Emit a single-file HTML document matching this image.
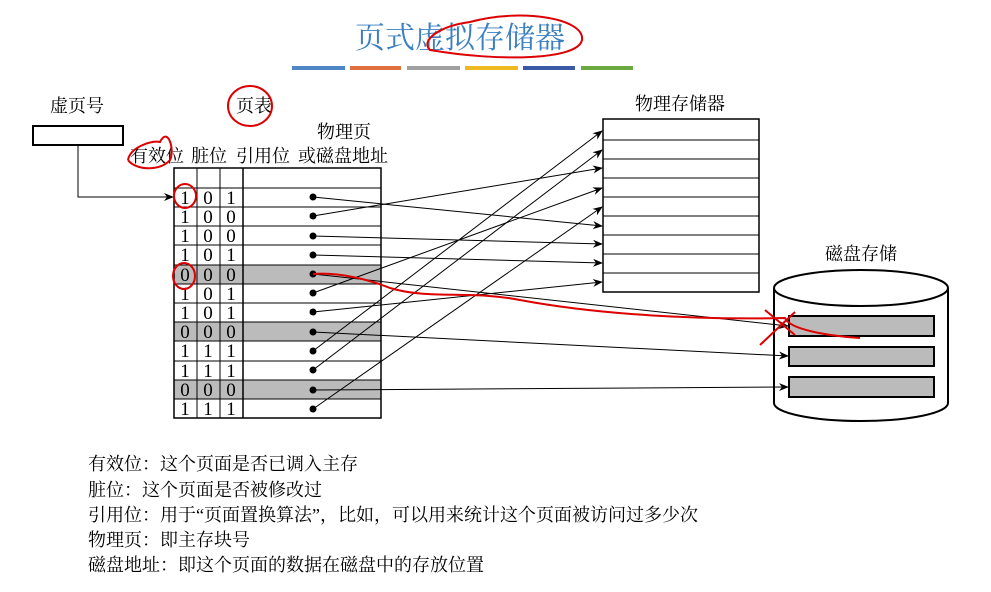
<!DOCTYPE html>
<html><head><meta charset="utf-8"><style>
body{margin:0;background:#fff;}
svg text{font-family:"Liberation Serif","Noto Serif CJK SC",serif;}
</style></head><body>
<svg width="991" height="587" xmlns="http://www.w3.org/2000/svg">
<defs><marker id="a" markerWidth="10" markerHeight="8" refX="9" refY="4" orient="auto" markerUnits="userSpaceOnUse"><path d="M0,0 L10,4 L0,8 L3,4 z" fill="#000"/></marker></defs>
<text x="460" y="48" font-size="30" fill="#3a7fc0" text-anchor="middle" font-family="Noto Sans CJK SC,sans-serif">页式虚拟存储器</text>
<g stroke-width="4">
<line x1="292" y1="68" x2="345" y2="68" stroke="#4f86c6"/><line x1="350" y1="68" x2="401" y2="68" stroke="#e07040"/>
<line x1="407" y1="68" x2="460" y2="68" stroke="#a0a0a0"/><line x1="465" y1="68" x2="518" y2="68" stroke="#f0b820"/>
<line x1="523" y1="68" x2="575" y2="68" stroke="#3a5aa8"/><line x1="581" y1="68" x2="633" y2="68" stroke="#6aaa40"/></g>
<g font-size="18" fill="#000">
<text x="50" y="112">虚页号</text><text x="236" y="112">页表</text>
<text x="317" y="138">物理页</text><text x="298" y="162">或磁盘地址</text>
<text x="130" y="162">有效位</text><text x="191" y="162">脏位</text><text x="236" y="162">引用位</text>
<text x="635" y="110">物理存储器</text><text x="825" y="260">磁盘存储</text></g>
<rect x="33" y="126" width="90" height="19" fill="#fff" stroke="#000" stroke-width="2"/>
<polyline points="78,145 78,197 173,197" fill="none" stroke="#000" marker-end="url(#a)"/>
<rect x="174" y="265" width="207" height="19" fill="#bbb"/><rect x="174" y="322" width="207" height="19" fill="#bbb"/><rect x="174" y="380" width="207" height="19" fill="#bbb"/>
<rect x="174" y="168" width="207" height="250" fill="none" stroke="#000" stroke-width="1.5"/>
<line x1="197" y1="168" x2="197" y2="418" stroke="#000"/><line x1="220" y1="168" x2="220" y2="418" stroke="#000"/><line x1="243" y1="168" x2="243" y2="418" stroke="#000" stroke-width="1.5"/>
<g stroke="#000" stroke-width="1">
<line x1="174" y1="188" x2="381" y2="188"/><line x1="174" y1="207" x2="381" y2="207"/><line x1="174" y1="226" x2="381" y2="226"/><line x1="174" y1="245" x2="381" y2="245"/><line x1="174" y1="265" x2="381" y2="265"/><line x1="174" y1="284" x2="381" y2="284"/><line x1="174" y1="303" x2="381" y2="303"/><line x1="174" y1="322" x2="381" y2="322"/><line x1="174" y1="341" x2="381" y2="341"/><line x1="174" y1="361" x2="381" y2="361"/><line x1="174" y1="380" x2="381" y2="380"/><line x1="174" y1="399" x2="381" y2="399"/></g>
<g font-size="19" text-anchor="middle" fill="#000">
<text x="185" y="204">1</text><text x="208" y="204">0</text><text x="231" y="204">1</text>
<text x="185" y="223">1</text><text x="208" y="223">0</text><text x="231" y="223">0</text>
<text x="185" y="242">1</text><text x="208" y="242">0</text><text x="231" y="242">0</text>
<text x="185" y="261">1</text><text x="208" y="261">0</text><text x="231" y="261">1</text>
<text x="185" y="281">0</text><text x="208" y="281">0</text><text x="231" y="281">0</text>
<text x="185" y="300">1</text><text x="208" y="300">0</text><text x="231" y="300">1</text>
<text x="185" y="319">1</text><text x="208" y="319">0</text><text x="231" y="319">1</text>
<text x="185" y="338">0</text><text x="208" y="338">0</text><text x="231" y="338">0</text>
<text x="185" y="357">1</text><text x="208" y="357">1</text><text x="231" y="357">1</text>
<text x="185" y="377">1</text><text x="208" y="377">1</text><text x="231" y="377">1</text>
<text x="185" y="396">0</text><text x="208" y="396">0</text><text x="231" y="396">0</text>
<text x="185" y="415">1</text><text x="208" y="415">1</text><text x="231" y="415">1</text></g>
<rect x="603" y="119" width="156" height="173" fill="#fff" stroke="#000" stroke-width="1.5"/>
<g stroke="#000"><line x1="603" y1="140" x2="759" y2="140"/><line x1="603" y1="159" x2="759" y2="159"/><line x1="603" y1="178" x2="759" y2="178"/><line x1="603" y1="197" x2="759" y2="197"/><line x1="603" y1="216" x2="759" y2="216"/><line x1="603" y1="235" x2="759" y2="235"/><line x1="603" y1="254" x2="759" y2="254"/><line x1="603" y1="273" x2="759" y2="273"/></g>
<path d="M774,288 L774,403 A87,18 0 0 0 948,403 L948,288" fill="#fff" stroke="#000" stroke-width="2"/>
<ellipse cx="861" cy="288" rx="87" ry="18" fill="#fff" stroke="#000" stroke-width="2"/>
<g fill="#bbb" stroke="#000" stroke-width="2"><rect x="789" y="316" width="145" height="20"/><rect x="789" y="347" width="145" height="19"/><rect x="789" y="377" width="145" height="20"/></g>
<g stroke="#000" fill="none" marker-end="url(#a)">
<line x1="313" y1="197" x2="602" y2="226"/><line x1="313" y1="216" x2="602" y2="168"/>
<line x1="313" y1="236" x2="602" y2="244"/><line x1="313" y1="255" x2="602" y2="263"/>
<line x1="313" y1="274" x2="788" y2="326"/><line x1="313" y1="293" x2="602" y2="188"/>
<line x1="313" y1="312" x2="602" y2="282"/><line x1="313" y1="332" x2="788" y2="356"/>
<line x1="313" y1="351" x2="602" y2="131"/><line x1="313" y1="370" x2="602" y2="150"/>
<line x1="313" y1="390" x2="788" y2="387"/><line x1="313" y1="409" x2="602" y2="207"/></g>
<g fill="#000"><circle cx="313" cy="197" r="3.5"/><circle cx="313" cy="216" r="3.5"/><circle cx="313" cy="236" r="3.5"/><circle cx="313" cy="255" r="3.5"/><circle cx="313" cy="274" r="3.5"/><circle cx="313" cy="293" r="3.5"/><circle cx="313" cy="312" r="3.5"/><circle cx="313" cy="332" r="3.5"/><circle cx="313" cy="351" r="3.5"/><circle cx="313" cy="370" r="3.5"/><circle cx="313" cy="390" r="3.5"/><circle cx="313" cy="409" r="3.5"/></g>
<g stroke="#d00" stroke-width="2" fill="none">
<path d="M470,22 C520,8 585,18 582,40 C578,60 500,62 430,50 C420,40 440,26 470,22"/>
<ellipse cx="250" cy="106" rx="22" ry="20"/>
<path d="M128,160 C130,148 150,140 160,142 C168,126 175,150 170,160 C160,172 135,170 128,160"/>
<ellipse cx="185" cy="196" rx="11" ry="12"/><ellipse cx="184" cy="276" rx="11" ry="13"/>
<path d="M313,274 C340,272 370,280 390,288 C430,300 470,290 520,300 C600,315 700,320 785,318 C790,330 830,336 860,338"/>
<path d="M765,310 L795,335 M795,312 L760,345"/></g>
<g font-size="18" fill="#000">
<text x="88" y="470">有效位：这个页面是否已调入主存</text>
<text x="88" y="496">脏位：这个页面是否被修改过</text>
<text x="88" y="521">引用位：用于“页面置换算法”，比如，可以用来统计这个页面被访问过多少次</text>
<text x="88" y="546">物理页：即主存块号</text>
<text x="88" y="571">磁盘地址：即这个页面的数据在磁盘中的存放位置</text></g>
</svg>
</body></html>
